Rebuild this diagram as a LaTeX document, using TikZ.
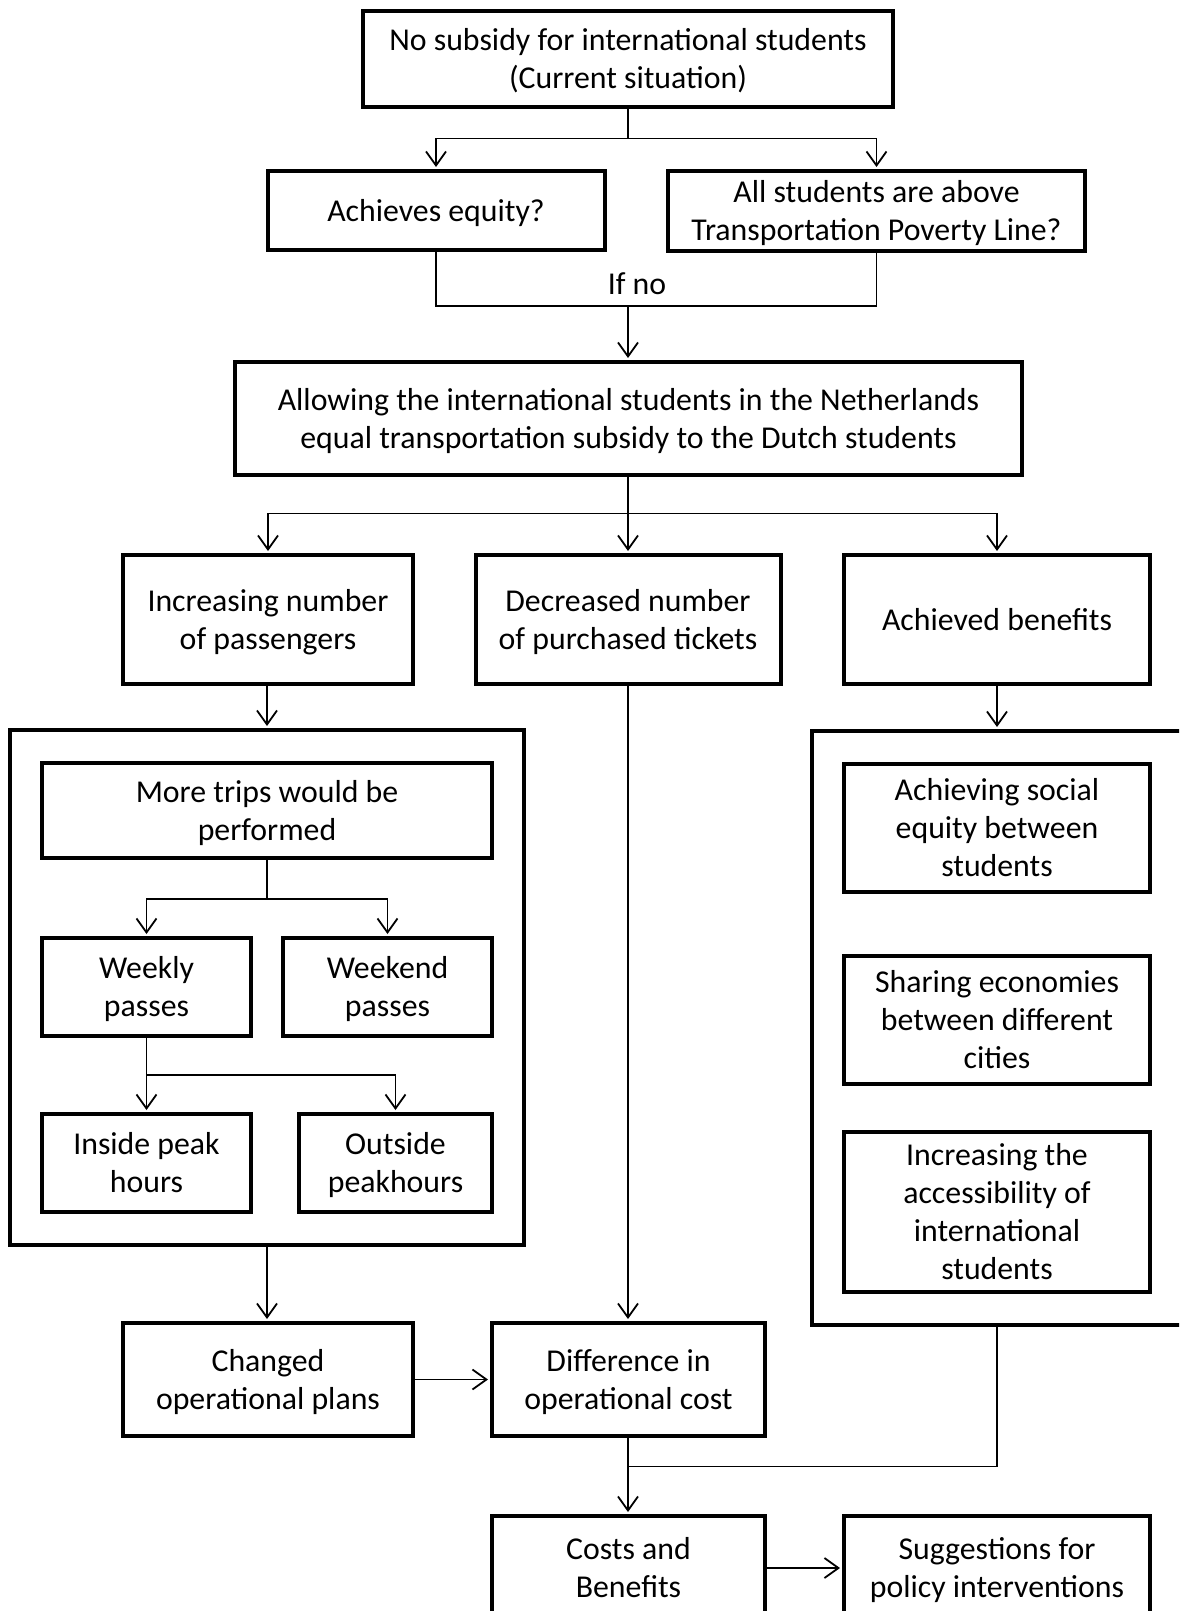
\documentclass[tikz,border=0pt]{standalone}
\usepackage{fontspec}
\setmainfont{Carlito}
\usetikzlibrary{arrows.meta}
\begin{document}
\begin{tikzpicture}[x=0.5pt,y=-0.5pt,
  box/.style={draw, line width=2pt, align=center, inner sep=0pt,
    font=\fontsize{15.9}{19}\selectfont, text depth=0.4pt},
  frame/.style={draw, line width=2pt, inner sep=0pt},
  sz/.style 2 args={minimum width=#1*0.5pt, minimum height=#2*0.5pt},
  conn/.style={line width=0.9pt},
  arr/.style={conn, shorten >=1pt, -{Straight Barb[length=7pt,width=10pt,line width=0.9pt]}}]
\clip (0,0) rectangle (1179,1611);
\fill[white] (0,0) rectangle (1179,1611);

% top row
\node[box, sz={530}{96}] (top) at (628,59) {No subsidy for international students\\(Current situation)};
\node[box, sz={337}{79}] (eq) at (436,210.5) {Achieves equity?};
\node[box, sz={417}{80}] (pov) at (876.5,211) {All students are above\\Transportation Poverty Line?};
\node[box, sz={787}{113}] (allow) at (628.5,418.5) {Allowing the international students in the Netherlands\\equal transportation subsidy to the Dutch students};
\node[font=\fontsize{15.9}{19}\selectfont] (ifno) at (637,283.5) {If no};

% second level
\node[box, sz={290}{129}] (pass) at (268,619.5) {Increasing number\\of passengers};
\node[box, sz={305}{129}] (dec) at (628,619.5) {Decreased number\\of purchased tickets};
\node[box, sz={306}{129}] (ben) at (997,619.5) {Achieved benefits};

% left group
\node[frame, sz={514}{515}] (lbox) at (267,987.5) {};
\node[box, sz={450}{95}] (trips) at (267,810.5) {More trips would be\\performed};
\node[box, sz={209}{98}] (weekly) at (146.5,987) {Weekly\\passes};
\node[box, sz={209}{98}] (weekend) at (387.5,987) {Weekend\\passes};
\node[box, sz={209}{98}] (inside) at (146.5,1163) {Inside peak\\hours};
\node[box, sz={193}{98}] (outside) at (395.5,1163) {Outside\\peakhours};

% right group
\node[frame, sz={390}{594}] (rbox) at (1007,1028) {};
\node[box, sz={306}{128}] (social) at (997,827.5) {Achieving social\\equity between\\students};
\node[box, sz={306}{128}] (share) at (997,1019.5) {Sharing economies\\between different\\cities};
\node[box, sz={306}{160}] (access) at (997,1212) {Increasing the\\accessibility of\\international\\students};

% lower rows
\node[box, sz={290}{113}] (changed) at (268,1379.5) {Changed\\operational plans};
\node[box, sz={273}{113}] (diff) at (628.5,1379.5) {Difference in\\operational cost};
\node[box, sz={273}{104}] (costs) at (628.5,1568) {Costs and\\Benefits};
\node[box, sz={306}{104}] (sugg) at (997,1568) {Suggestions for\\policy interventions};

% junction points
\coordinate (j1) at (628,138.6);
\coordinate (j2) at (628,306);
\coordinate (j3) at (628,513.5);
\coordinate (j4) at (267,898.6);
\coordinate (j5) at (146.5,1075);
\coordinate (j6) at (628,1466.5);

% connectors
\draw[conn] (top.south) -- (top.south |- j1);
\draw[arr] (top.south |- j1) -| (eq.north);
\draw[arr] (top.south |- j1) -| (pov.north);
\draw[conn] (eq.south) |- (j2) -| (pov.south);
\draw[arr] (j2) -- (j2 |- allow.north);

\draw[conn] (allow.south -| j3) -- (j3);
\draw[arr] (j3) -| (pass.north);
\draw[arr] (j3) -- (j3 |- dec.north);
\draw[arr] (j3) -| (ben.north);

\draw[arr] (lbox.north |- pass.south) -- (lbox.north);
\draw[conn] (trips.south) -- (j4);
\draw[arr] (j4) -| (weekly.north);
\draw[arr] (j4) -| (weekend.north);
\draw[conn] (weekly.south) -- (j5);
\draw[arr] (j5) -- (inside.north);
\draw[arr] (j5) -| (outside.north);

\draw[arr] (ben.south) -- (ben.south |- rbox.north);

\draw[arr] (lbox.south) -- (lbox.south |- changed.north);
\draw[arr] (dec.south) -- (dec.south |- diff.north);
\draw[arr] (changed.east) -- (diff.west);
\draw[conn] (diff.south -| j6) -- (j6);
\draw[conn] (ben.south |- rbox.south) |- (j6);
\draw[arr] (j6) -- (j6 |- costs.north);
\draw[arr] (costs.east) -- (sugg.west);
\end{tikzpicture}
\end{document}
